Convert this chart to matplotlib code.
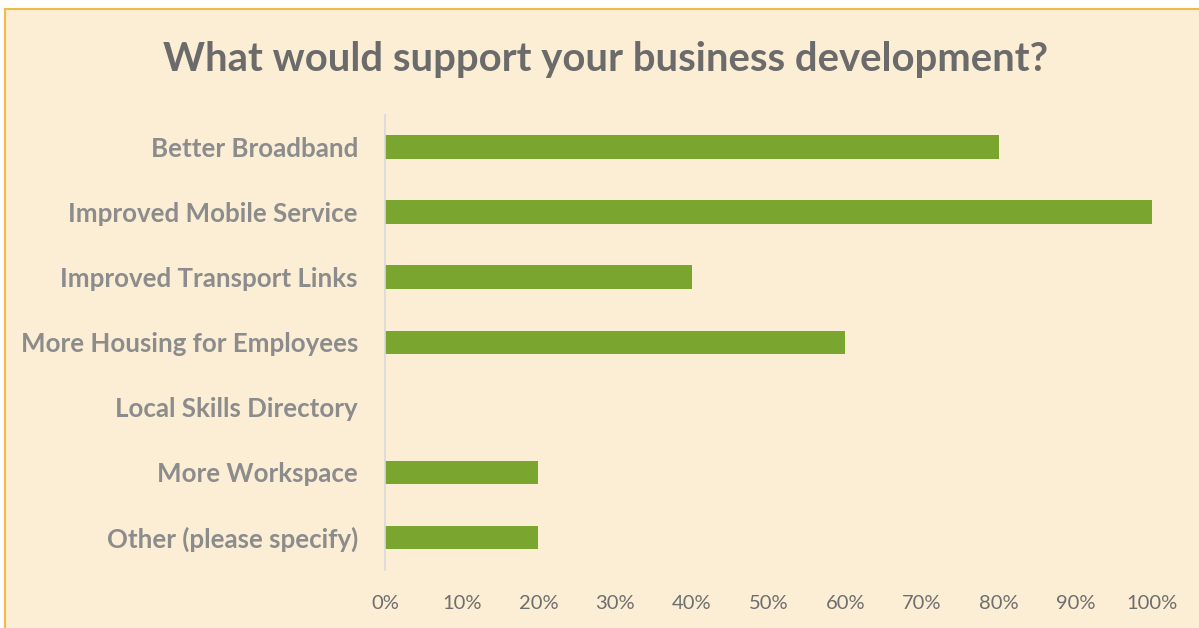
import matplotlib
matplotlib.use("Agg")
import matplotlib.pyplot as plt
from matplotlib.lines import Line2D
from matplotlib.patches import Rectangle

categories = ["Better Broadband", "Improved Mobile Service", "Improved Transport Links",
              "More Housing for Employees", "Local Skills Directory", "More Workspace",
              "Other (please specify)"]
values = [80, 100, 40, 60, 0, 20, 20]
tick_values = [0, 10, 20, 30, 40, 50, 60, 70, 80, 90, 100]
tick_labels = [f"{v}%" for v in tick_values]
title = "What would support your business development?"

W, H = 1199, 628
bg = "#FBEED5"
fig = plt.figure(figsize=(W / 100, H / 100), dpi=100)
fig.patch.set_facecolor("white")
fig.add_artist(Rectangle((5 / W, 0), 1, 1 - 9 / H, transform=fig.transFigure,
                         facecolor=bg, edgecolor="none", zorder=0))
fig.add_artist(Line2D([5 / W, 1], [1 - 9 / H, 1 - 9 / H], color="#F0BC48", lw=1.5, zorder=1))
fig.add_artist(Line2D([5 / W, 5 / W], [0, 1 - 9 / H], color="#F0BC48", lw=1.5, zorder=1))

ax = fig.add_axes([385 / W, 1 - 570 / H, (1152 - 385) / W, (570 - 114.5) / H])
ax.set_facecolor("none")
ypos = list(range(len(categories)))
ax.barh(ypos, values, height=0.36, color="#7AA52E")
ax.set_ylim(len(categories) - 0.5, -0.5)
ax.set_xlim(0, 100)
ax.set_yticks(ypos)
ax.set_yticklabels(categories, fontfamily="Lato", fontweight="bold", fontsize=18.6, color="#8C8C8C")
ax.set_xticks(tick_values)
ax.set_xticklabels(tick_labels, fontfamily="Lato", fontsize=14.5, color="#6E6E6E")
ax.tick_params(axis="both", length=0)
ax.tick_params(axis="y", pad=19.5)
ax.tick_params(axis="x", pad=18)
for s in ["top", "right", "bottom"]:
    ax.spines[s].set_visible(False)
ax.spines["left"].set_color("#D9D9D9")
ax.spines["left"].set_linewidth(1.2)

fig.text(606 / W, 1 - 59 / H, title, ha="center", va="center", fontfamily="Lato",
         fontweight="bold", fontsize=28.8, color="#6B6B6B")

fig.savefig("out.png", dpi=100, facecolor=fig.get_facecolor())
